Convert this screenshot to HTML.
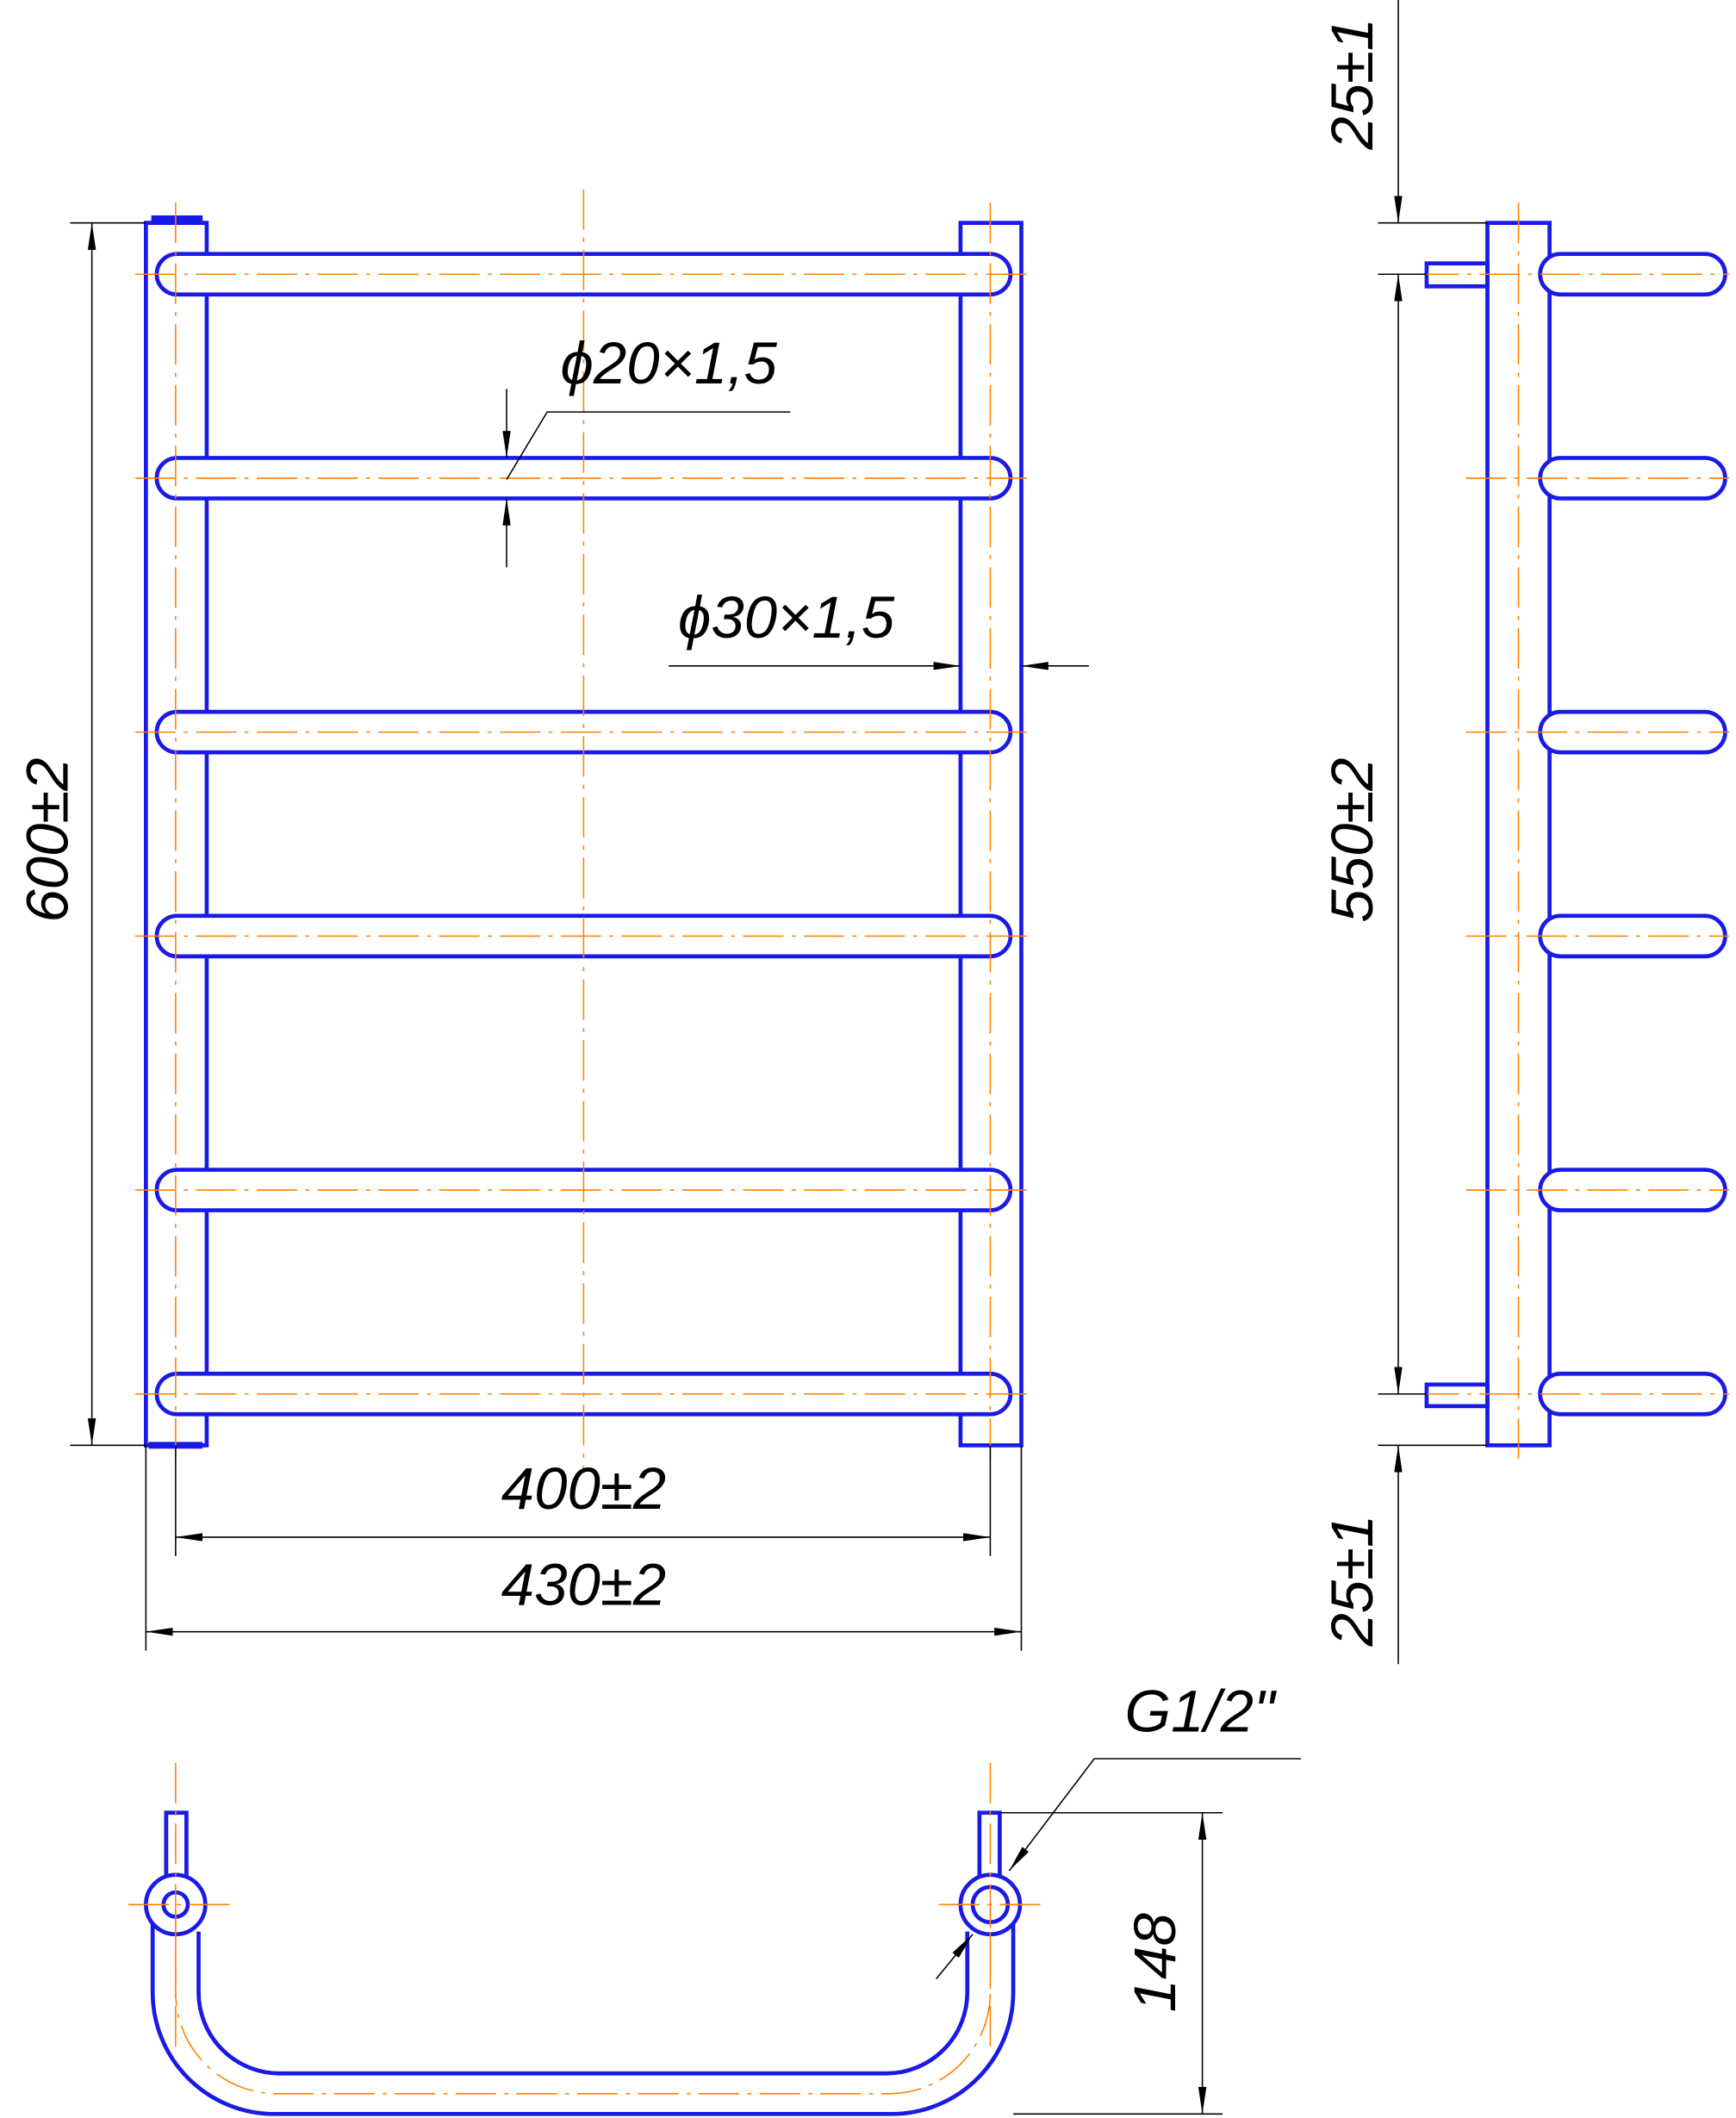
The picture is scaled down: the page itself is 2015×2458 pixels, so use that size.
<!DOCTYPE html>
<html><head><meta charset="utf-8"><style>
html,body{margin:0;padding:0;background:#fff;}
svg{display:block;}
text{font-family:"Liberation Sans",sans-serif;font-style:italic;fill:#000;}
</style></head><body>
<svg width="2015" height="2458" viewBox="0 0 1285 1568" preserveAspectRatio="none" xmlns="http://www.w3.org/2000/svg">
<defs>
<marker id="a" viewBox="0 0 20 6" refX="20" refY="3" markerWidth="20" markerHeight="6" markerUnits="userSpaceOnUse" orient="auto-start-reverse"><path d="M0,0 L20,3 L0,6 z" fill="#000"/></marker>
</defs>
<g stroke="#1a1ae6" stroke-width="3" fill="none">
<rect x="108" y="165" width="45" height="905"/>
<rect x="711" y="165" width="45" height="905"/>
<g fill="#fff">
<rect x="116" y="188" width="632" height="30" rx="15"/>
<rect x="116" y="339" width="632" height="30" rx="15"/>
<rect x="116" y="527" width="632" height="30" rx="15"/>
<rect x="116" y="678" width="632" height="30" rx="15"/>
<rect x="116" y="866" width="632" height="30" rx="15"/>
<rect x="116" y="1017" width="632" height="30" rx="15"/>
</g>
<line x1="112" y1="162" x2="150" y2="162" stroke-width="5"/>
<line x1="110" y1="1070" x2="150" y2="1070" stroke-width="5"/>
<rect x="1101" y="165" width="46" height="905"/>
<g fill="#fff">
<rect x="1140" y="188" width="137" height="30" rx="15"/>
<rect x="1140" y="339" width="137" height="30" rx="15"/>
<rect x="1140" y="527" width="137" height="30" rx="15"/>
<rect x="1140" y="678" width="137" height="30" rx="15"/>
<rect x="1140" y="866" width="137" height="30" rx="15"/>
<rect x="1140" y="1017" width="137" height="30" rx="15"/>
</g>
<rect x="1056" y="195" width="45" height="17"/>
<rect x="1056" y="1025" width="45" height="16"/>
<path d="M113,1410 V1475 A90,90 0 0 0 203,1565 H660 A90,90 0 0 0 750,1475 V1410"/>
<path d="M147,1430 V1475 A60,60 0 0 0 207,1535 H656 A60,60 0 0 0 716,1475 V1430"/>
<rect x="123" y="1342" width="15" height="48" fill="#fff"/>
<rect x="725" y="1342" width="15" height="48" fill="#fff"/>
<circle cx="130" cy="1410" r="22" fill="#fff"/><circle cx="130" cy="1410" r="9"/>
<circle cx="733" cy="1410" r="22" fill="#fff"/><circle cx="733" cy="1410" r="13"/>
</g>
<g stroke="#ff8000" stroke-width="1" stroke-dasharray="30,6,3,6" fill="none">
<line x1="432" y1="140" x2="432" y2="1090"/>
<line x1="130" y1="150" x2="130" y2="1080"/>
<line x1="733" y1="150" x2="733" y2="1080"/>
<line x1="1124" y1="150" x2="1124" y2="1080"/>
<line x1="100" y1="203" x2="765" y2="203"/><line x1="100" y1="354" x2="765" y2="354"/><line x1="100" y1="542" x2="765" y2="542"/><line x1="100" y1="693" x2="765" y2="693"/><line x1="100" y1="881" x2="765" y2="881"/><line x1="100" y1="1032" x2="765" y2="1032"/>
<line x1="1085" y1="354" x2="1280" y2="354"/><line x1="1085" y1="542" x2="1280" y2="542"/><line x1="1085" y1="693" x2="1280" y2="693"/><line x1="1085" y1="881" x2="1280" y2="881"/><line x1="1050" y1="203" x2="1280" y2="203"/><line x1="1050" y1="1032" x2="1280" y2="1032"/>
<line x1="130" y1="1305" x2="130" y2="1520"/><line x1="733" y1="1305" x2="733" y2="1520"/>
<line x1="95" y1="1410" x2="170" y2="1410"/><line x1="695" y1="1410" x2="770" y2="1410"/>
<path d="M130,1410 V1475 A75,75 0 0 0 205,1550 H658 A75,75 0 0 0 733,1475 V1410"/>
</g>
<g stroke="#000" stroke-width="1" fill="none">
<line x1="52" y1="165" x2="108" y2="165"/><line x1="52" y1="1070" x2="108" y2="1070"/>
<line x1="68" y1="165" x2="68" y2="1070" marker-start="url(#a)" marker-end="url(#a)"/>
<line x1="108" y1="1070" x2="108" y2="1222"/><line x1="756" y1="1070" x2="756" y2="1222"/>
<line x1="130" y1="1070" x2="130" y2="1152"/><line x1="733" y1="1070" x2="733" y2="1152"/>
<line x1="130" y1="1138" x2="733" y2="1138" marker-start="url(#a)" marker-end="url(#a)"/>
<line x1="108" y1="1208" x2="756" y2="1208" marker-start="url(#a)" marker-end="url(#a)"/>
<line x1="375" y1="288" x2="375" y2="339" marker-end="url(#a)"/>
<line x1="375" y1="420" x2="375" y2="369" marker-end="url(#a)"/>
<polyline points="585,305 405,305 375,355"/>
<line x1="495" y1="493" x2="711" y2="493" marker-end="url(#a)"/>
<line x1="806" y1="493" x2="756" y2="493" marker-end="url(#a)"/>
<line x1="1035" y1="0" x2="1035" y2="165" marker-end="url(#a)"/>
<line x1="1035" y1="203" x2="1035" y2="1032" marker-start="url(#a)" marker-end="url(#a)"/>
<line x1="1035" y1="1232" x2="1035" y2="1070" marker-end="url(#a)"/>
<line x1="1020" y1="165" x2="1101" y2="165"/><line x1="1020" y1="203" x2="1056" y2="203"/>
<line x1="1020" y1="1032" x2="1056" y2="1032"/><line x1="1020" y1="1070" x2="1101" y2="1070"/>
<line x1="740" y1="1342" x2="905" y2="1342"/><line x1="750" y1="1565" x2="905" y2="1565"/>
<line x1="890" y1="1342" x2="890" y2="1565" marker-start="url(#a)" marker-end="url(#a)"/>
<polyline points="963,1302 810,1302 747,1385" marker-end="url(#a)"/>
<line x1="693" y1="1465" x2="720" y2="1432" marker-end="url(#a)"/>
</g>
<g font-size="44">
<text x="432" y="1117" text-anchor="middle">400±2</text>
<text x="432" y="1188" text-anchor="middle">430±2</text>
<text x="495" y="284" text-anchor="middle">ϕ20×1,5</text>
<text x="582" y="472" text-anchor="middle">ϕ30×1,5</text>
<text x="888" y="1282" text-anchor="middle">G1/2"</text>
<text transform="translate(50,622) rotate(-90)" text-anchor="middle">600±2</text>
<text transform="translate(1016,622) rotate(-90)" text-anchor="middle">550±2</text>
<text transform="translate(1016,62) rotate(-90)" text-anchor="middle">25±1</text>
<text transform="translate(1016,1170) rotate(-90)" text-anchor="middle">25±1</text>
<text transform="translate(870,1453) rotate(-90)" text-anchor="middle">148</text>
</g>
</svg>
</body></html>
